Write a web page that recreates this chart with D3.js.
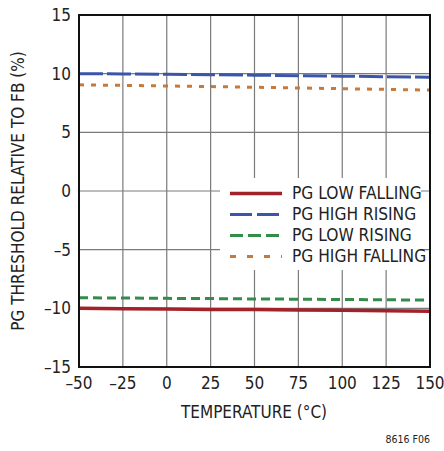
<!DOCTYPE html>
<html>
<head>
<meta charset="utf-8">
<script src="https://cdn.jsdelivr.net/npm/d3@7"></script>
<style>
  html, body { margin: 0; padding: 0; background: #fff; }
</style>
</head>
<body>
<script>
const WIDTH = 444;
const HEIGHT = 451;
const FONT = "'Liberation Sans Narrow', 'DejaVu Sans Condensed', 'Arial Narrow', sans-serif";
const GRID = '#7a7a7a';

// data
const temps = [-50, -25, 0, 25, 50, 75, 100, 125, 150];
const pgLowFalling = [-10.00, -10.03, -10.06, -10.09, -10.11, -10.14, -10.17, -10.21, -10.25];
const pgHighRising = [10.00, 9.98, 9.95, 9.91, 9.87, 9.83, 9.79, 9.74, 9.70];
const pgLowRising = [-9.10, -9.12, -9.15, -9.17, -9.20, -9.22, -9.25, -9.27, -9.30];
const pgHighFalling = [9.05, 9.00, 8.95, 8.90, 8.84, 8.78, 8.72, 8.66, 8.60];
const xTicks = [-50, -25, 0, 25, 50, 75, 100, 125, 150];
const yTicks = [-15, -10, -5, 0, 5, 10, 15];

const series = [
  { name: 'PG LOW FALLING', values: pgLowFalling, color: '#a3222a', dash: null, legendDash: null, width: 3.5 },
  { name: 'PG HIGH RISING', values: pgHighRising, color: '#3b55a9', dash: '24 4', legendDash: '22 5', width: 3 },
  { name: 'PG LOW RISING', values: pgLowRising, color: '#358b4a', dash: '9 5', legendDash: '13 5', width: 3 },
  { name: 'PG HIGH FALLING', values: pgHighFalling, color: '#c7793a', dash: '5 7', legendDash: '6 11', width: 3 },
];

const plot = { left: 79, right: 430, top: 15, bottom: 367 };

const svg = d3.select('body').append('svg')
  .attr('width', WIDTH)
  .attr('height', HEIGHT)
  .attr('viewBox', `0 0 ${WIDTH} ${HEIGHT}`)
  .style('display', 'block');

const x = d3.scaleLinear().domain([-50, 150]).range([plot.left, plot.right]);
const y = d3.scaleLinear().domain([-15, 15]).range([plot.bottom, plot.top]);

// grid
svg.append('g')
  .selectAll('line')
  .data(xTicks.slice(1, -1))
  .join('line')
  .attr('x1', d => x(d)).attr('x2', d => x(d))
  .attr('y1', plot.top).attr('y2', plot.bottom)
  .attr('stroke', GRID).attr('stroke-width', 1.2);

svg.append('g')
  .selectAll('line')
  .data(yTicks.slice(1, -1))
  .join('line')
  .attr('x1', plot.left).attr('x2', plot.right)
  .attr('y1', d => y(d)).attr('y2', d => y(d))
  .attr('stroke', GRID).attr('stroke-width', 1.2);

// series
const line = d3.line()
  .x((d, i) => x(temps[i]))
  .y(d => y(d));

series.forEach(s => {
  svg.append('path')
    .datum(s.values)
    .attr('d', line)
    .attr('fill', 'none')
    .attr('stroke', s.color)
    .attr('stroke-width', s.width)
    .attr('stroke-dasharray', s.dash);
});

// legend
const lg = svg.append('g');
lg.append('rect')
  .attr('x', 220).attr('y', 178)
  .attr('width', 201).attr('height', 92)
  .attr('fill', '#fff');

series.forEach((s, i) => {
  const cy = 193.5 + i * 21;
  lg.append('line')
    .attr('x1', 230).attr('x2', 282)
    .attr('y1', cy).attr('y2', cy)
    .attr('stroke', s.color)
    .attr('stroke-width', s.width)
    .attr('stroke-dasharray', s.legendDash);
  const t = lg.append('text')
    .attr('x', 292).attr('y', cy + 5)
    .attr('font-family', FONT)
    .attr('font-size', 18)
    .attr('fill', '#222')
    .text(s.name);
  // reference face is a bit narrower than the fallback
  const w = t.node().getComputedTextLength();
  t.attr('textLength', w * 0.955).attr('lengthAdjust', 'spacingAndGlyphs');
});

// frame
svg.append('rect')
  .attr('x', plot.left).attr('y', plot.top)
  .attr('width', plot.right - plot.left)
  .attr('height', plot.bottom - plot.top)
  .attr('fill', 'none')
  .attr('stroke', '#111')
  .attr('stroke-width', 2);

// tick labels
const fmt = d => d < 0 ? '\u2013' + Math.abs(d) : String(d);

svg.append('g')
  .selectAll('text')
  .data(xTicks)
  .join('text')
  .attr('x', d => x(d))
  .attr('y', 389)
  .attr('text-anchor', 'middle')
  .attr('font-family', FONT)
  .attr('font-size', 17)
  .attr('fill', '#222')
  .text(fmt);

svg.append('g')
  .selectAll('text')
  .data(yTicks)
  .join('text')
  .attr('x', 71)
  .attr('y', d => y(d) + 6)
  .attr('text-anchor', 'end')
  .attr('font-family', FONT)
  .attr('font-size', 17)
  .attr('fill', '#222')
  .text(fmt);

// axis titles
svg.append('text')
  .attr('x', 254).attr('y', 418)
  .attr('text-anchor', 'middle')
  .attr('font-family', FONT)
  .attr('font-size', 17)
  .attr('fill', '#222')
  .text('TEMPERATURE (\u00B0C)');

svg.append('text')
  .attr('transform', `translate(24,${(plot.top + plot.bottom) / 2}) rotate(-90)`)
  .attr('text-anchor', 'middle')
  .attr('font-family', FONT)
  .attr('font-size', 17)
  .attr('fill', '#222')
  .text('PG THRESHOLD RELATIVE TO FB (%)');

svg.append('text')
  .attr('x', 430).attr('y', 443)
  .attr('text-anchor', 'end')
  .attr('font-family', FONT)
  .attr('font-size', 10.5)
  .attr('fill', '#222')
  .text('8616 F06');
</script>
</body>
</html>
